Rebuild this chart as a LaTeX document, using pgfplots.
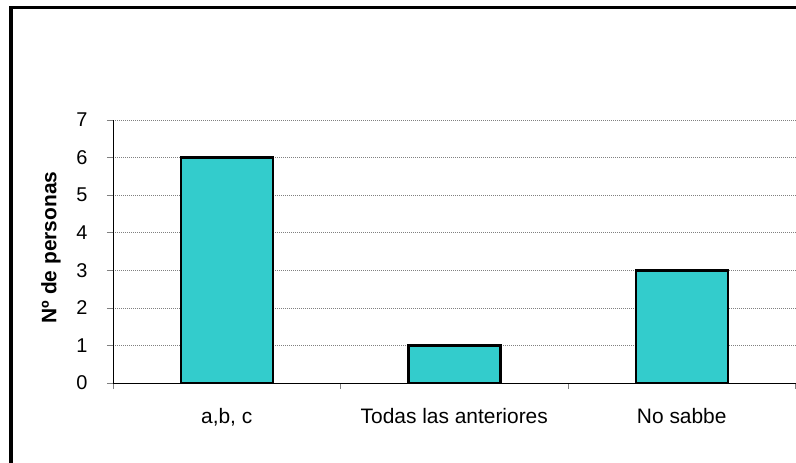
\documentclass[border=0pt]{standalone}
\usepackage{fontspec}
\setmainfont{Liberation Sans}
\usepackage{pgfplots}
\pgfplotsset{compat=1.18}
\definecolor{barc}{RGB}{51,204,204}
\begin{document}
\begin{tikzpicture}
\useasboundingbox (0,0) rectangle (796bp,463bp);
\fill[white] (0,0) rectangle (796bp,463bp);
\begin{axis}[at={(113bp,80bp)}, anchor=south west, scale only axis,
  width=682.5bp, height=263bp,
  xmin=-0.5, xmax=2.5, ymin=0, ymax=7,
  axis lines*=left, axis line style={black, line width=0.8bp},
  ytick={0,...,7}, ymajorgrids,
  grid style={gray, line width=0.6bp, dash pattern=on 1bp off 1bp},
  xtick={-0.5,0.5,1.5,2.5}, x tick label as interval,
  xticklabels={{a,b, c},{Todas las anteriores},{No sabbe}},
  tick align=outside, major tick length=6bp,
  tick style={gray, line width=0.6bp},
  yticklabel style={font=\fontsize{20}{24}\selectfont, xshift=-16bp},
  xticklabel style={font=\fontsize{21}{25}\selectfont, yshift=-16bp},
  /pgf/number format/assume math mode=true,
  ylabel={Nº de personas},
  label style={font=\fontsize{21}{25}\selectfont\bfseries},
  ylabel style={at={(axis description cs:-0.0908,0.515)}, anchor=center},
  clip=false,
]
\addplot[ybar, bar width=92bp, fill=barc, draw=black, line width=2.5bp]
  coordinates {(0,6) (1,1) (2,3)};
\end{axis}
\draw[line width=3.5bp, line cap=rect] (10.8bp,0) -- (10.8bp,455.5bp) -- (797bp,455.5bp);
\end{tikzpicture}
\end{document}
